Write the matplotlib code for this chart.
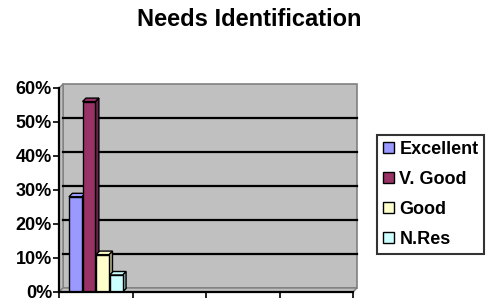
import numpy as np
import matplotlib
matplotlib.use("Agg")
import matplotlib.pyplot as plt
from matplotlib.patches import Polygon, Rectangle

plt.rcParams['font.family'] = ['Liberation Sans', 'DejaVu Sans']

series = ['Excellent', 'V. Good', 'Good', 'N.Res']
values = [0.28, 0.56, 0.11, 0.05]
colors = ['#9999FF', '#993366', '#FFFFCC', '#CCFFFF']
side_colors = ['#6B6BB3', '#6B2447', '#B3B38F', '#8FB3B3']
yticks = [0, 0.1, 0.2, 0.3, 0.4, 0.5, 0.6]
ytick_labels = ['0%', '10%', '20%', '30%', '40%', '50%', '60%']
n_cats = 4

W, H = 490, 301
fig = plt.figure(figsize=(W / 100, H / 100), dpi=100)
ax = fig.add_axes([59 / W, 9 / H, 294 / W, 204 / H])
ax.set_xlim(0, n_cats)
ax.set_ylim(0, 0.6)

# depth of the 3d effect in data units
p0 = ax.transData.transform((0, 0))
ddx, ddy = ax.transData.inverted().transform(p0 + np.array([4, 4]))
bdx, bdy = ax.transData.inverted().transform(p0 + np.array([3.5, 3.5]))

wall_c = '#C0C0C0'
edge_c = '#808080'
# back wall
ax.add_patch(Rectangle((ddx, ddy), n_cats, 0.6, facecolor=wall_c, edgecolor=edge_c,
                       lw=1.2, zorder=0, clip_on=False))
# side wall
ax.add_patch(Polygon([(0, 0), (ddx, ddy), (ddx, 0.6 + ddy), (0, 0.6)], facecolor=wall_c,
                     edgecolor=edge_c, lw=1, zorder=0.5, clip_on=False))
# floor
ax.add_patch(Polygon([(0, 0), (n_cats, 0), (n_cats + ddx, ddy), (ddx, ddy)], facecolor=wall_c,
                     edgecolor=edge_c, lw=1, zorder=0.5, clip_on=False))
# gridlines on the back wall
for t in yticks[1:-1]:
    ax.plot([ddx, n_cats + ddx], [t + ddy, t + ddy], color='black', lw=1.6, zorder=1,
            clip_on=False)

width = 0.175
xs = [0.5 + (i - 1.5) * 0.185 for i in range(len(series))]
for x, v, c, sc, lab in zip(xs, values, colors, side_colors, series):
    x0 = x - width / 2
    x1 = x + width / 2
    ax.add_patch(Polygon([(x1, 0), (x1 + bdx, bdy), (x1 + bdx, v + bdy), (x1, v)],
                         facecolor=sc, edgecolor='black', lw=1, zorder=2, clip_on=False))
    ax.add_patch(Polygon([(x0, v), (x0 + bdx, v + bdy), (x1 + bdx, v + bdy), (x1, v)],
                         facecolor=c, edgecolor='black', lw=1, zorder=2, clip_on=False))
    ax.bar(x, v, width=width, color=c, edgecolor='black', lw=1, zorder=3, label=lab)

for s in ['top', 'right']:
    ax.spines[s].set_visible(False)
for s in ['left', 'bottom']:
    ax.spines[s].set_linewidth(1.6)
    ax.spines[s].set_zorder(4)
ax.set_yticks(yticks)
ax.set_yticklabels(ytick_labels, fontsize=13, fontweight='bold')
ax.set_xticks(range(n_cats + 1))
ax.set_xticklabels([])
ax.tick_params(direction='out', length=4, width=1.2, pad=1)
ax.set_facecolor('none')

fig.text(249 / W, 1 - 19 / H, 'Needs Identification', ha='center', va='center',
         fontsize=17, fontweight='bold')

leg = fig.legend(loc='upper left', bbox_to_anchor=(377 / W, 1 - 135 / H),
                 frameon=True, fancybox=False,
                 prop={'weight': 'bold', 'size': 13},
                 handlelength=0.62, handleheight=0.62, handletextpad=0.3,
                 labelspacing=0.72, borderpad=0.32, borderaxespad=0)
leg.get_frame().set_edgecolor('black')
leg.get_frame().set_linewidth(1.5)

fig.savefig('out.png', dpi=100)
